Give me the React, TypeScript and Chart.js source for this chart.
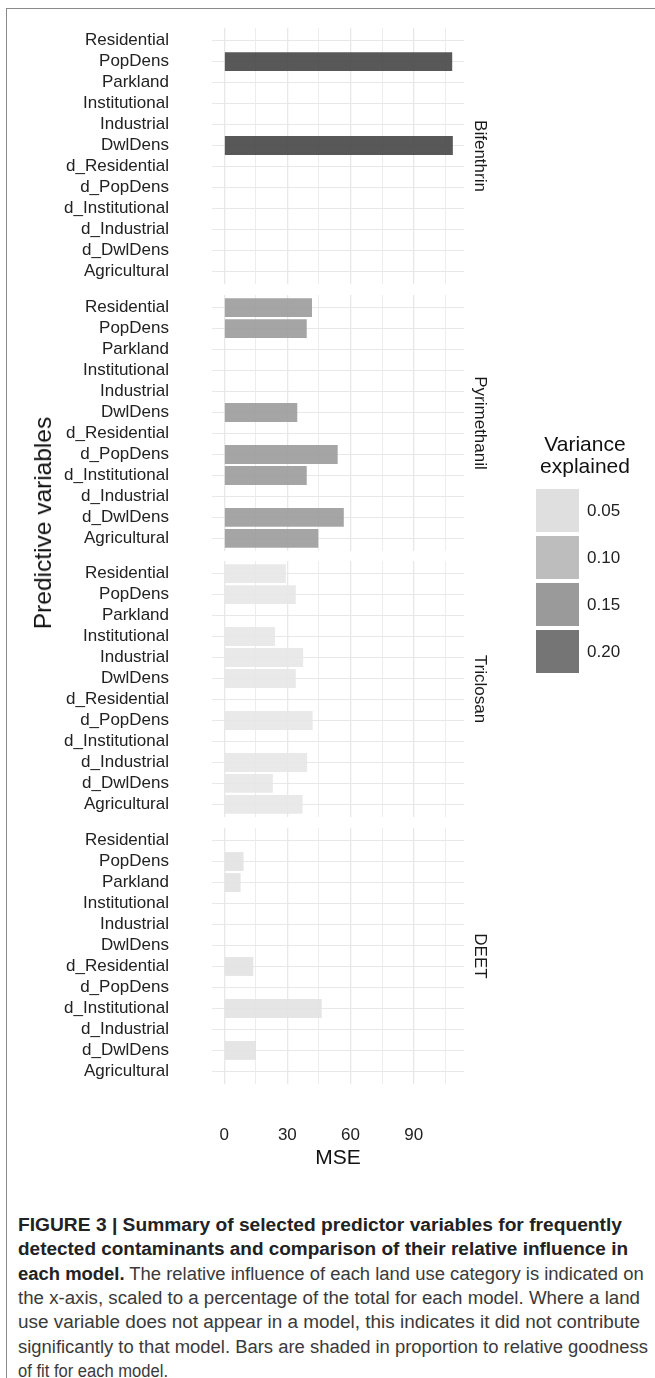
import React, { useEffect, useRef } from 'react';
import { Chart, registerables } from 'chart.js';

Chart.register(...registerables);

const FONT = "'Liberation Sans', Arial, Helvetica, sans-serif";

// ---------- data ----------
const categories = [
  'Residential', 'PopDens', 'Parkland', 'Institutional', 'Industrial', 'DwlDens',
  'd_Residential', 'd_PopDens', 'd_Institutional', 'd_Industrial', 'd_DwlDens', 'Agricultural',
];
const panelNames = ['Bifenthrin', 'Pyrimethanil', 'Triclosan', 'DEET'];
const bifenthrinMSE = [null, 108.3, null, null, null, 108.6, null, null, null, null, null, null];
const pyrimethanilMSE = [41.7, 39.2, null, null, null, 34.7, null, 53.9, 39.2, null, 56.8, 44.7];
const triclosanMSE = [29.3, 34.0, null, 24.1, 37.5, 34.0, null, 42.0, null, 39.4, 23.1, 37.2];
const deetMSE = [null, 9.2, 7.8, null, null, null, 13.8, null, 46.3, null, 15.1, null];
const panelValues = [bifenthrinMSE, pyrimethanilMSE, triclosanMSE, deetMSE];
const panelColors = [
  'rgba(70,70,70,0.9)',
  'rgba(155,155,155,0.9)',
  'rgba(231,231,231,0.9)',
  'rgba(226,226,226,0.9)',
];
const xGridValues = [0, 15, 30, 45, 60, 75, 90, 105];
const xTickLabels = [0, 30, 60, 90];
const legendBreaks = ['0.05', '0.10', '0.15', '0.20'];
const legendColors = ['#dfdfdf', '#bdbdbd', '#9a9a9a', '#757575'];

const captionLines: { bold?: string; text?: string; right: number }[] = [
  { bold: 'FIGURE 3 | Summary of selected predictor variables for frequently', right: 622 },
  { bold: 'detected contaminants and comparison of their relative influence in', right: 628 },
  { bold: 'each model.', text: ' The relative influence of each land use category is indicated on', right: 644 },
  { text: 'the x-axis, scaled to a percentage of the total for each model. Where a land', right: 640 },
  { text: 'use variable does not appear in a model, this indicates it did not contribute', right: 640 },
  { text: 'significantly to that model. Bars are shaded in proportion to relative goodness', right: 648 },
  { text: 'of fit for each model.', right: 168 },
];

// ---------- layout ----------
const PANEL_TOPS = [28, 295, 561, 828];
const AREA_H = 256;
const PAD = 12;
const AREA_LEFT = 212;
const AREA_RIGHT = 464;
const X_AXIS_H = 87;

const stripPlugin = {
  id: 'stripLabel',
  afterDraw(chart: any) {
    const { ctx, chartArea } = chart;
    const name = chart.data.datasets[0].label;
    ctx.save();
    ctx.translate(480, (chartArea.top + chartArea.bottom) / 2);
    ctx.rotate(Math.PI / 2);
    ctx.font = `17px ${FONT}`;
    ctx.fillStyle = '#1a1a1a';
    ctx.textAlign = 'center';
    ctx.textBaseline = 'middle';
    ctx.fillText(name, 0, 0);
    ctx.restore();
  },
};

function Panel({ index }: { index: number }) {
  const ref = useRef<HTMLCanvasElement>(null);
  const isBottom = index === panelNames.length - 1;
  const height = PAD + AREA_H + (isBottom ? X_AXIS_H : PAD);
  const top = PANEL_TOPS[index] - PAD;

  useEffect(() => {
    if (!ref.current) return;
    const values = panelValues[index];
    const data = values
      .map((v, i) => (v == null ? null : { x: v, y: i }))
      .filter((d) => d !== null);
    const padding = { top: PAD, bottom: isBottom ? 0 : PAD, left: 0, right: 655 - AREA_RIGHT };
    const chart = new Chart(ref.current, {
      type: 'bar',
      data: {
        datasets: [
          {
            label: panelNames[index],
            data: data as any,
            backgroundColor: panelColors[index],
            borderWidth: 0,
            barPercentage: 0.9,
            categoryPercentage: 1,
          },
        ],
      },
      options: {
        indexAxis: 'y',
        animation: false,
        responsive: false,
        maintainAspectRatio: false,
        layout: { padding, autoPadding: false } as any,
        plugins: { legend: { display: false }, tooltip: { enabled: false } },
        scales: {
          x: {
            type: 'linear',
            position: 'bottom',
            min: -5.8,
            max: 113.9,
            offset: false,
            afterBuildTicks: (s: any) => {
              s.ticks = xGridValues.map((v) => ({ value: v }));
            },
            afterFit: (s: any) => {
              s.height = isBottom ? X_AXIS_H : 0;
            },
            grid: {
              offset: false,
              color: '#e8e8e8',
              lineWidth: (c: any) => (c.tick && c.tick.value % 30 === 0 ? 1.3 : 0.8),
              drawTicks: false,
            },
            border: { display: false },
            ticks: {
              display: isBottom,
              autoSkip: false,
              maxRotation: 0,
              padding: 40.8,
              color: '#222',
              font: { family: FONT, size: 17 },
              callback: (v: any) => (xTickLabels.includes(Number(v)) ? String(v) : ''),
            },
            title: {
              display: isBottom,
              text: 'MSE',
              color: '#111',
              font: { family: FONT, size: 21 },
              padding: 0,
            },
          },
          y: {
            type: 'linear',
            min: -0.6,
            max: 11.6,
            reverse: true,
            offset: false,
            afterBuildTicks: (s: any) => {
              s.ticks = categories.map((_, i) => ({ value: i }));
            },
            afterFit: (s: any) => {
              s.width = AREA_LEFT;
            },
            grid: {
              offset: false,
              color: '#e8e8e8',
              lineWidth: 1.1,
              drawTicks: true,
              tickLength: 43,
              tickColor: 'rgba(0,0,0,0)',
            },
            border: { display: false },
            ticks: {
              autoSkip: false,
              padding: 0,
              color: '#222',
              font: { family: FONT, size: 17 },
              callback: (v: any) => categories[Number(v)] ?? '',
            },
          },
        },
      },
      plugins: [stripPlugin],
    });
    // make the plot area land exactly where the panel should be
    const ca = chart.chartArea;
    const wantTop = PAD;
    const wantBottom = PAD + AREA_H;
    if (Math.abs(ca.top - wantTop) > 0.5 || Math.abs(ca.bottom - wantBottom) > 0.5) {
      padding.top += wantTop - ca.top;
      padding.bottom += ca.bottom - wantBottom;
      (chart.options as any).layout.padding = { ...padding };
      chart.update();
    }
    return () => chart.destroy();
  }, [index]);

  return (
    <canvas
      ref={ref}
      width={655}
      height={height}
      style={{ position: 'absolute', left: 0, top, width: 655, height }}
    />
  );
}

let measureCtx: CanvasRenderingContext2D | null = null;
function measure(text: string, bold: boolean, size: number) {
  if (!measureCtx) measureCtx = document.createElement('canvas').getContext('2d');
  if (!measureCtx) return 0;
  measureCtx.font = `${bold ? 'bold ' : ''}${size}px ${FONT}`;
  return measureCtx.measureText(text).width;
}

function Caption() {
  const size = 18;
  const left = 18;
  return (
    <>
      {captionLines.map((ln, i) => {
        const w = measure(ln.bold ?? '', true, size) + measure(ln.text ?? '', false, size);
        const target = ln.right - left;
        const k = w > 0 ? target / w : 1;
        return (
          <div
            key={i}
            style={{
              position: 'absolute',
              left,
              top: 1213 + i * 24.3,
              height: 24,
              lineHeight: '24px',
              fontSize: size,
              fontFamily: FONT,
              whiteSpace: 'nowrap',
              transform: `scaleX(${k})`,
              transformOrigin: 'left center',
              color: '#3a3a3a',
            }}
          >
            {ln.bold ? <span style={{ fontWeight: 'bold', color: '#222' }}>{ln.bold}</span> : null}
            {ln.text ? <span>{ln.text}</span> : null}
          </div>
        );
      })}
    </>
  );
}

function Legend() {
  const keyTops = [489, 536, 583, 630];
  return (
    <>
      <div
        style={{
          position: 'absolute',
          left: 525,
          top: 433,
          width: 120,
          textAlign: 'center',
          fontFamily: FONT,
          fontSize: 21,
          lineHeight: '22px',
          color: '#111',
        }}
      >
        Variance
        <br />
        explained
      </div>
      {legendBreaks.map((b, i) => (
        <React.Fragment key={b}>
          <div
            style={{
              position: 'absolute',
              left: 536,
              top: keyTops[i],
              width: 43,
              height: 43,
              background: legendColors[i],
            }}
          />
          <div
            style={{
              position: 'absolute',
              left: 587,
              top: keyTops[i],
              height: 43,
              lineHeight: '43px',
              fontFamily: FONT,
              fontSize: 17,
              color: '#222',
            }}
          >
            {b}
          </div>
        </React.Fragment>
      ))}
    </>
  );
}

export default function App() {
  return (
    <div
      style={{
        position: 'absolute',
        left: 0,
        top: 0,
        width: 655,
        height: 1378,
        overflow: 'hidden',
        background: '#fff',
        fontFamily: FONT,
      }}
    >
      <div
        style={{
          position: 'absolute',
          left: 6,
          top: 8,
          width: 660,
          height: 1380,
          borderLeft: '1.5px solid #8a8a8a',
          borderTop: '1.5px solid #8a8a8a',
        }}
      />
      {panelNames.map((_, i) => (
        <Panel key={i} index={i} />
      ))}
      <div
        style={{
          position: 'absolute',
          left: 43,
          top: 523,
          transform: 'translate(-50%, -50%) rotate(-90deg)',
          whiteSpace: 'nowrap',
          fontFamily: FONT,
          fontSize: 24.5,
          color: '#111',
        }}
      >
        Predictive variables
      </div>
      <Legend />
      <Caption />
    </div>
  );
}
